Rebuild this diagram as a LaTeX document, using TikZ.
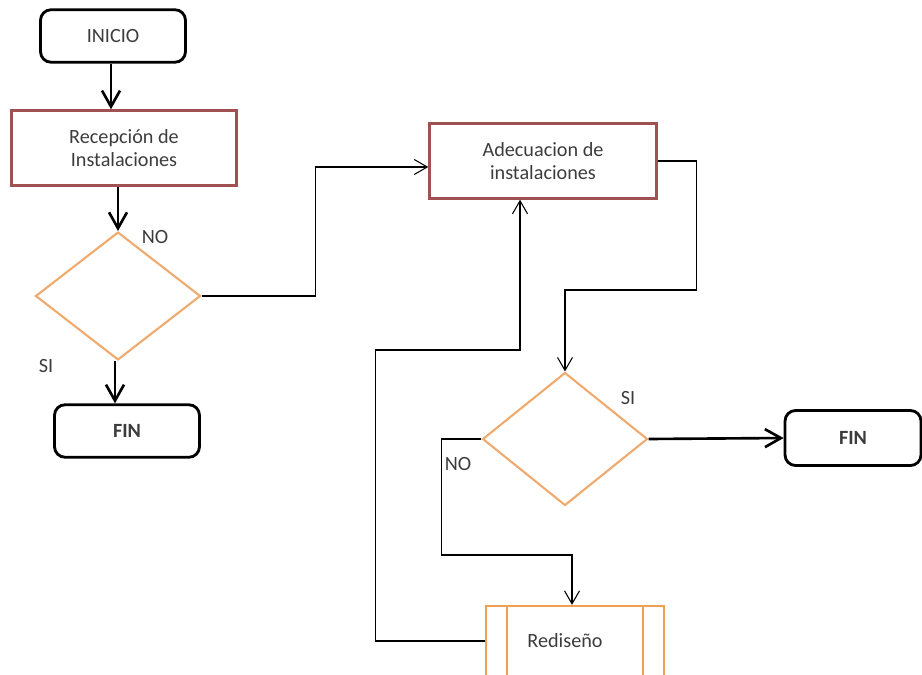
\documentclass[tikz,border=0pt]{standalone}
\usepackage{fontspec}
\setmainfont{Carlito}
\usetikzlibrary{shapes.geometric, positioning, arrows.meta}
\definecolor{boxred}{HTML}{A05252}
\definecolor{diaorange}{HTML}{F0AA6E}
\definecolor{subor}{HTML}{F0A050}
\definecolor{txt}{HTML}{3C3C3C}

\begin{document}
\begin{tikzpicture}[x=0.02cm, y=-0.02cm, font=\fontsize{11.5}{13.5}\selectfont, text=txt]
    % Setup the styles for the shapes
        \tikzset{term style/.style={draw=black, rounded corners=6pt,
                                    line width=1.6pt, minimum width=2.9cm,
                                    minimum height=1.05cm},
                 proc style/.style={draw=boxred, line width=1.4pt,
                                    align=center, minimum height=1.5cm},
                 dec style/.style={diamond, draw=diaorange, line width=1.2pt,
                                   inner sep=0pt, minimum width=3.3cm},
                 sub style/.style={draw=subor, line width=1.3pt,
                                   minimum width=3.56cm, minimum height=1.4cm},
                 thick line/.style={line width=1.5pt,
                                    -{Straight Barb[length=3.2mm, width=3.6mm]}},
                 thin line/.style={line width=0.6pt}}
        \useasboundingbox (0,0) rectangle (922,675);
        % Draw the shapes
        \node[term style] at (113, 36)     (inicio) {INICIO};
        \node[proc style, minimum width=4.5cm] at (124, 148) (recep) {Recepción de\\Instalaciones};
        \node[dec style, minimum height=2.56cm] at (118, 296) (dec1) {};
        \node[term style] at (127, 431)    (fin1) {\textbf{FIN}};
        \node[proc style, minimum width=4.54cm] at (543, 161) (adec) {Adecuacion de\\instalaciones};
        \node[dec style, minimum height=2.66cm] at (565, 439) (dec2) {};
        \node[term style, minimum width=2.72cm, minimum height=1.1cm] at (853, 438) (fin2) {\textbf{FIN}};
        \node[sub style] at (575, 641)     (redis) {\hspace{-0.4cm}Rediseño};
        \draw[subor, line width=1.3pt]
            ([xshift=0.44cm]redis.north west) -- ([xshift=0.44cm]redis.south west)
            ([xshift=-0.44cm]redis.north east) -- ([xshift=-0.44cm]redis.south east);
        % Labels
        \node at (155, 237) (no1) {NO};
        \node at (46, 366)  (si1) {SI};
        \node at (628, 398) (si2) {SI};
        \node at (458, 464) (no2) {NO};
        % Connect the shapes
        \draw[thick line] ([xshift=-0.04cm]inicio.south) -- ([xshift=-0.04cm]inicio.south |- recep.north);
        \draw[thick line] (dec1.north |- recep.south) -- (dec1.north);
        \draw[thick line] ([xshift=-0.06cm]dec1.south) -- ([xshift=-0.06cm]dec1.south |- fin1.north);
        \draw[thick line] (dec2.east) -- (fin2.west);
        \draw[thin line, -{Straight Barb[length=2.6mm, width=3mm]}]
            (dec1.east) -- ++(114, 0) |- ([yshift=-0.12cm]adec.west);
        \draw[thin line, -{Straight Barb[length=2.6mm, width=3mm]}]
            (adec.east) -- ++(39, 0) -- ++(0, 129) -| (dec2.north);
        \draw[thin line, -{Straight Barb[length=2.6mm, width=3mm]}]
            (dec2.west) -- ++(-40, 0) -- ++(0, 116) -| ([xshift=-0.06cm]redis.north);
        \draw[thin line, -{Straight Barb[length=2.6mm, width=3mm]}]
            (redis.west) -- ++(-109, 0) -- ++(0, -291) -| ([xshift=-0.46cm]adec.south);
\end{tikzpicture}
\end{document}
